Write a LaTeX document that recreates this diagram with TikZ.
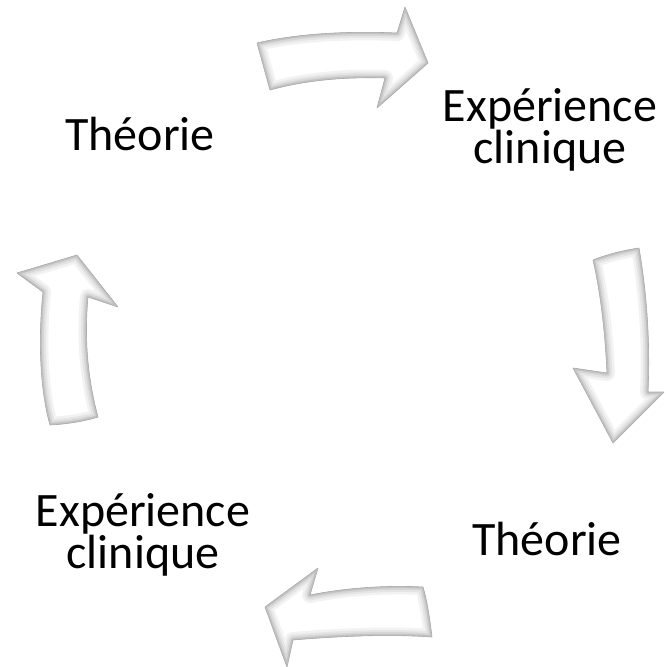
\documentclass[tikz,border=0pt]{standalone}
\usepackage{fontspec}
\setmainfont{Carlito}
\newcommand\bevelarrow[1]{%
  \shade[use path=#1, top color=white, bottom color=gray!18];
  \begin{scope}
    \clip[use path=#1];
    \draw[use path=#1, line width=16pt, gray!10, line join=round];
    \draw[use path=#1, line width=11pt, gray!20, line join=round];
    \draw[use path=#1, line width=7pt, gray!32, line join=round];
    \draw[use path=#1, line width=3.5pt, gray!48, line join=round];
  \end{scope}
  \draw[use path=#1, gray!65, line width=0.6pt, line join=round];}
\begin{document}
\begin{tikzpicture}[x=1pt,y=-1pt,
  lbl/.style={font=\fontsize{48}{41}\selectfont, inner sep=0pt, align=center}]
\useasboundingbox[fill=white] (0,0) rectangle (666,667);
% top arrow
\path[save path=\arrtop]
  (257,43) .. controls (300,33) and (350,31) .. (397,33) -- (405,7) -- (428,63)
  -- (377,108) -- (385,78) .. controls (350,77) and (310,79) .. (270,90) -- cycle;
% right arrow
\path[save path=\arrright]
  (593,260) .. controls (608,254) and (625,250) .. (639,248)
  .. controls (648,300) and (650,350) .. (648,392) -- (664,392) -- (613,443)
  -- (573,368) -- (607,373) .. controls (605,330) and (600,290) .. (593,260) -- cycle;
% bottom arrow
\path[save path=\arrbottom]
  (423,587) .. controls (385,585) and (345,588) .. (310,595) -- (318,568) -- (265,607)
  -- (287,667) -- (293,640) .. controls (340,636) and (390,634) .. (432,637)
  .. controls (430,620) and (427,600) .. (423,587) -- cycle;
% left arrow
\path[save path=\arrleft]
  (77,255) -- (118,307) -- (88,297) .. controls (84,340) and (88,380) .. (98,417)
  .. controls (82,422) and (66,424) .. (50,425)
  .. controls (40,390) and (38,340) .. (43,292) -- (17,273) -- cycle;
\bevelarrow{\arrtop}
\bevelarrow{\arrright}
\bevelarrow{\arrbottom}
\bevelarrow{\arrleft}
\node[lbl, anchor=base] (t1) at (140,150) {Théorie};
\node[lbl] (e1) at (550,130) {Expérience\\clinique};
\node[lbl, anchor=base] (t2) at (547,555) {Théorie};
\node[lbl] (e2) at (143,535) {Expérience\\clinique};
\end{tikzpicture}
\end{document}
